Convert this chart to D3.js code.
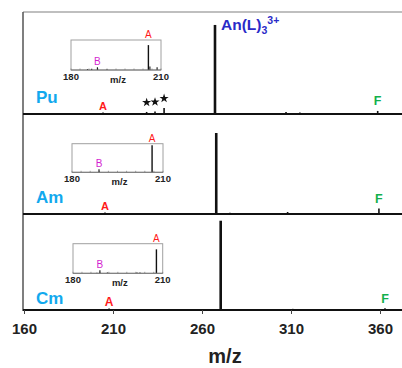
<!DOCTYPE html>
<html><head><meta charset="utf-8">
<script src="https://cdn.jsdelivr.net/npm/d3@7"></script>
<style>html,body{margin:0;padding:0;background:#fff;overflow:hidden}svg{display:block}</style>
</head><body><svg id="c" width="402" height="368"></svg>
<script>
// ---------- data ----------
const mainTicks = [160, 210, 260, 310, 360];
const panelNames = ["Pu", "Am", "Cm"];
const puMz  = [171.8, 187.5, 204.4, 228.9, 233.6, 238.7, 267.3, 307.2, 315.0, 358.7];
const puInt = [0.8, 1.0, 1.5, 2.0, 2.5, 6.0, 87.3, 2.0, 1.5, 3.0];
const amMz  = [187.5, 205.5, 237.4, 245.0, 268.0, 275.7, 280.2, 308.1, 344.1, 359.4];
const amInt = [1.0, 1.5, 1.0, 1.0, 81.0, 1.2, 1.0, 2.0, 1.0, 5.5];
const cmMz  = [207.8, 270.5, 283.0, 311.0, 362.8];
const cmInt = [1.5, 93.0, 1.0, 1.2, 1.8];
const aMz = [204.4, 205.5, 207.8];
const fMz = [358.7, 359.4, 362.8];
const starMz = [228.9, 233.6, 238.7];
// insets
const insetTicks = [180, 210];
const puInsetMz  = [185.5, 186.9, 188.8, 192.0, 205.8, 206.3, 208.7];
const puInsetInt = [3, 4, 9, 2, 83, 12, 9];
const amInsetMz  = [188.9, 206.4];
const amInsetInt = [11, 95];
const cmInsetMz  = [188.0, 189.0, 191.5, 201.4, 202.4, 207.9];
const cmInsetInt = [2, 10, 3, 3, 3, 81];
const insetAMz = [205.8, 206.4, 207.9];
const insetBMz = [188.8, 188.9, 189.0];

// ---------- layout ----------
const W = 402, H = 368;
const FONT = "'Liberation Sans', Arial, sans-serif";
const svg = d3.select("#c");
const x = d3.scaleLinear().domain([160, 360]).range([24, 380]);
const panels = [
  {base: 114, top: 12, mz: puMz, it: puInt, nameY: 103, box: [71, 40, 161, 70], imz: puInsetMz, iit: puInsetInt},
  {base: 214, top: 114, mz: amMz, it: amInt, nameY: 203, box: [72, 143.7, 163, 172.3], imz: amInsetMz, iit: amInsetInt},
  {base: 310, top: 214, mz: cmMz, it: cmInt, nameY: 304, box: [73, 243.7, 162.7, 273.3], imz: cmInsetMz, iit: cmInsetInt}
];

// frame
svg.append("line").attr("x1", 23).attr("x2", W).attr("y1", 12).attr("y2", 12)
  .attr("stroke", "#808080").attr("stroke-width", 1.2);
svg.append("line").attr("x1", 23).attr("x2", 23).attr("y1", 12).attr("y2", 311)
  .attr("stroke", "#555").attr("stroke-width", 1.5);

panels.forEach((p, i) => {
  const y = d3.scaleLinear().domain([0, 100]).range([p.base, p.top]);
  const g = svg.append("g");
  g.selectAll("line.pk").data(p.mz.map((m, k) => [m, p.it[k]])).join("line")
    .attr("x1", d => x(d[0])).attr("x2", d => x(d[0]))
    .attr("y1", p.base).attr("y2", d => y(d[1]))
    .attr("stroke", "#111").attr("stroke-width", d => d[1] > 50 ? 2.6 : 1.6);
  g.append("line").attr("x1", 23).attr("x2", W).attr("y1", p.base).attr("y2", p.base)
    .attr("stroke", "#111").attr("stroke-width", 2);
  g.append("text").attr("x", 36).attr("y", p.nameY).text(panelNames[i])
    .attr("font-family", FONT).attr("font-weight", "bold").attr("font-size", 17).attr("fill", "#12a9ee");
  g.append("text").attr("x", x(aMz[i])).attr("y", p.base - 4.5).text("A")
    .attr("text-anchor", "middle").attr("font-family", FONT).attr("font-weight", "bold")
    .attr("font-size", i === 2 ? 12 : 11).attr("fill", "#ff1a1a");
  const fInt = p.it[p.mz.indexOf(fMz[i])];
  g.append("text").attr("x", x(fMz[i])).attr("y", y(fInt) - 5.5).text("F")
    .attr("text-anchor", "middle").attr("font-family", FONT).attr("font-weight", "bold")
    .attr("font-size", 12.5).attr("fill", "#12b04c");

  // inset
  const [bx0, by0, bx1, by1] = p.box;
  const ix = d3.scaleLinear().domain([180, 210]).range([bx0, bx1]);
  const iy = d3.scaleLinear().domain([0, 100]).range([by1, by0]);
  const ig = svg.append("g");
  ig.append("rect").attr("x", bx0).attr("y", by0).attr("width", bx1 - bx0).attr("height", by1 - by0)
    .attr("fill", "#fff").attr("stroke", "#a0a0a0").attr("stroke-width", 1);
  ig.selectAll("line.mt").data(d3.range(180, 211, 3)).join("line")
    .attr("x1", d => ix(d)).attr("x2", d => ix(d)).attr("y1", by1).attr("y2", by1 - 1.5)
    .attr("stroke", "#888").attr("stroke-width", 0.8);
  ig.selectAll("line.ip").data(p.imz.map((m, k) => [m, p.iit[k]])).join("line")
    .attr("x1", d => ix(d[0])).attr("x2", d => ix(d[0]))
    .attr("y1", by1).attr("y2", d => iy(d[1]))
    .attr("stroke", "#111").attr("stroke-width", d => d[1] > 50 ? 1.4 : 1.1);
  ig.append("line").attr("x1", bx0).attr("x2", bx1).attr("y1", by1).attr("y2", by1)
    .attr("stroke", "#777").attr("stroke-width", 1);
  ig.selectAll("text.tl").data(insetTicks).join("text")
    .attr("x", d => ix(d)).attr("y", by1 + 10).text(d => d)
    .attr("text-anchor", "middle").attr("font-family", FONT).attr("font-weight", "bold")
    .attr("font-size", 9.5).attr("fill", "#222");
  ig.append("text").attr("x", (bx0 + bx1) / 2 + 2).attr("y", by1 + 12.5).text("m/z")
    .attr("text-anchor", "middle").attr("font-family", FONT).attr("font-weight", "bold")
    .attr("font-size", 9.5).attr("fill", "#222");
  ig.append("text").attr("x", ix(insetAMz[i])).attr("y", by0 - 2).text("A")
    .attr("text-anchor", "middle").attr("font-family", FONT).attr("font-size", 10).attr("fill", "#ff1a1a");
  ig.append("text").attr("x", ix(insetBMz[i])).attr("y", by1 - 5.5).text("B")
    .attr("text-anchor", "middle").attr("font-family", FONT).attr("font-size", 10).attr("fill", "#d41fd0");
});

// stars on Pu panel
{
  const p = panels[0];
  const y = d3.scaleLinear().domain([0, 100]).range([p.base, p.top]);
  svg.selectAll("path.star").data(starMz).join("path")
    .attr("transform", d => `translate(${x(d)},${y(puInt[puMz.indexOf(d)]) - 9.5})`)
    .attr("d", d3.symbol(d3.symbolStar, 26)).attr("fill", "#111");
}

// An(L)3 3+ label
{
  const t = svg.append("text").attr("x", 221).attr("y", 30)
    .attr("font-family", FONT).attr("font-weight", "bold").attr("font-size", 15.5).attr("fill", "#2a2ac8");
  t.append("tspan").text("An(L)");
  t.append("tspan").attr("font-size", 10.5).attr("dy", 3.5).text("3");
  t.append("tspan").attr("font-size", 10.5).attr("dy", -9.5).text("3+");
}

// x axis
const xAxis = d3.axisBottom(x).tickValues(mainTicks).tickSize(4).tickPadding(9);
const ax = svg.append("g").attr("transform", "translate(0,310)").call(xAxis);
ax.select(".domain").remove();
ax.selectAll(".tick line").attr("stroke", "#444").attr("stroke-width", 1);
ax.selectAll(".tick text").attr("font-family", FONT).attr("font-weight", "bold")
  .attr("font-size", 15).attr("fill", "#222");
svg.append("text").attr("x", 225).attr("y", 363).text("m/z").attr("text-anchor", "middle")
  .attr("font-family", FONT).attr("font-weight", "bold").attr("font-size", 20).attr("fill", "#222");
</script></body></html>
